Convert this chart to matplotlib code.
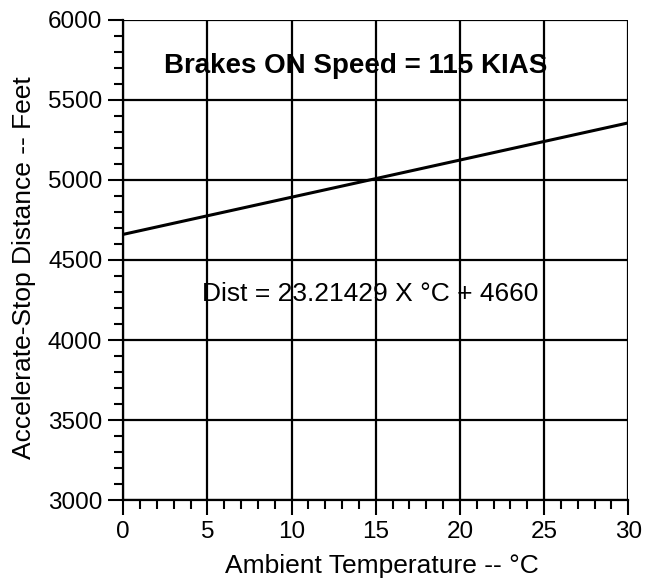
import numpy as np
from matplotlib import pyplot as plt
from matplotlib.ticker import MultipleLocator

plt.rcParams['font.family'] = ['Liberation Sans', 'DejaVu Sans']

# values
temp_c = [0, 5, 10, 15, 20, 25, 30]
dist_ft = [4660, 4776, 4892, 5008, 5124, 5240, 5356]

x_ticks = [0, 5, 10, 15, 20, 25, 30]
y_ticks = [3000, 3500, 4000, 4500, 5000, 5500, 6000]

fig = plt.figure(figsize=(6.45, 5.81), dpi=100)
ax = fig.add_axes([0.191, 0.139, 0.783, 0.827])

ax.plot(temp_c, dist_ft, color="black", lw=2.2)

ax.set_xlim(0, 30)
ax.set_ylim(3000, 6000)
ax.set_xticks(x_ticks)
ax.set_yticks(y_ticks)
ax.xaxis.set_minor_locator(MultipleLocator(1))
ax.yaxis.set_minor_locator(MultipleLocator(100))
ax.tick_params(which="major", length=11, width=1.5, labelsize=17.5, pad=4, direction="out")
ax.tick_params(which="minor", length=6.5, width=1.5, direction="out")
ax.grid(True, which="major", color="black", lw=1.6)

for s in ["top", "right"]:
    ax.spines[s].set_visible(False)
for s in ["left", "bottom"]:
    ax.spines[s].set_linewidth(1.6)

ax.set_xlabel("Ambient Temperature -- °C", fontsize=19)
ax.set_ylabel("Accelerate-Stop Distance -- Feet", fontsize=19)
ax.xaxis.set_label_coords(0.513, -0.112)
ax.yaxis.set_label_coords(-0.172, 0.485)

ax.text(13.8, 5713, "Brakes ON Speed = 115 KIAS", fontsize=20, fontweight="bold",
        ha="center", va="center")
ax.text(14.7, 4290, "Dist = 23.21429 X °C + 4660", fontsize=19, ha="center", va="center")

fig.savefig("out.png", dpi=100)
